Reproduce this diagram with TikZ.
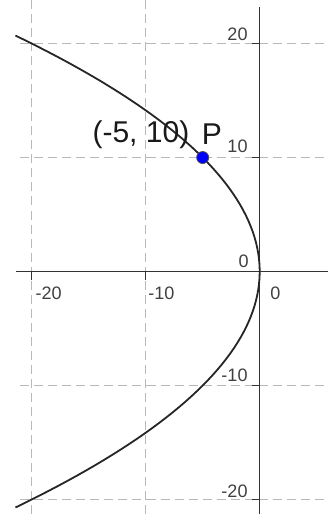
\documentclass[tikz,border=0pt]{standalone}
\usepackage{fontspec}
\setmainfont{Liberation Sans}
\usetikzlibrary{positioning}

\begin{document}
\begin{tikzpicture}[
    x=0.2cm, y=0.2cm,
    grid line/.style={draw=black!28, dash pattern=on 4.5pt off 2.5pt, line width=0.5pt},
    axis line/.style={draw=black!80, line width=0.7pt},
    curve/.style={draw=black!85, line width=0.9pt},
    tick label/.style={font=\fontsize{9}{9}\selectfont, text=black!75, inner sep=0pt},
    point label/.style={font=\fontsize{15}{15}\selectfont, text=black!90, inner sep=0pt},
    point/.style={circle, fill=blue, draw=black!70, line width=0.4pt, inner sep=0pt, minimum size=6pt}
]
\useasboundingbox (-22.78,-21.27) rectangle (5.99,23.82);
% Grid
\foreach \x in {-20,-10} \draw[grid line] (\x,-21.27) -- (\x,23.82);
\foreach \y in {-20,-10,10,20} \draw[grid line] (-21,\y) -- (5.99,\y);
% Axes
\draw[axis line] (-21.4,0) -- (5.99,0);
\draw[axis line] (0,-21.27) -- (0,23.2);
\foreach \x in {-20,-10} \draw[axis line] (\x,0) -- (\x,-0.7);
\foreach \y in {-20,-10,10,20} \draw[axis line] (0,\y) -- (-0.7,\y);
% Tick labels
\node[tick label, anchor=base east] (y20) at (-1.03,20.3) {20};
\node[tick label, anchor=base east] (y10) at (-1.03,10.48) {10};
\node[tick label, anchor=base east] (y0) at (-0.94,0.39) {0};
\node[tick label, anchor=base east] (ym10) at (-1.03,-9.69) {-10};
\node[tick label, anchor=base east] (ym20) at (-1.03,-19.78) {-20};
\node[tick label, anchor=base west] (xm20) at (-19.7,-2.41) {-20};
\node[tick label, anchor=base west] (xm10) at (-9.8,-2.41) {-10};
\node[tick label, anchor=base west] (x0) at (0.9,-2.41) {0};
% Parabola x = -y^2/20
\draw[curve] plot[domain=-20.7:20.7, samples=90, variable=\t] ({-\t*\t/20},\t);
% Point P
\node[point] (P) at (-5,10) {};
\node[point label, anchor=base west] (Pcoord) at (-14.7,11.3) {(-5, 10)};
\node[point label, anchor=base west] (Pname) at (-5.1,11.1) {P};
\end{tikzpicture}
\end{document}
